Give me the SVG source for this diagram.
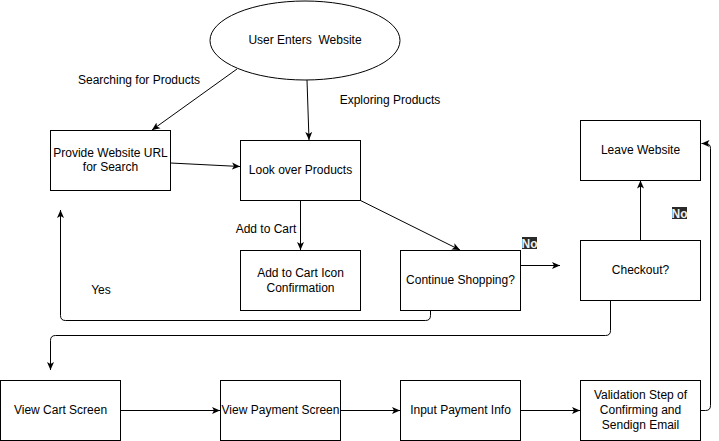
<svg xmlns="http://www.w3.org/2000/svg" width="719" height="441" viewBox="0 0 719 441">
<defs>
<style>
.box{fill:#fff;stroke:#000;stroke-width:1}
.t{font-family:"Liberation Sans",Arial,Helvetica,sans-serif;font-size:12px;fill:#000;text-anchor:middle}
.e{fill:none;stroke:#000;stroke-width:1}
.nobg{fill:#2a2a2a}
.no{font-family:"Liberation Sans",Arial,Helvetica,sans-serif;font-size:12px;font-weight:bold;fill:#f0f0f0;text-anchor:middle}
</style>
<marker id="arr" markerUnits="userSpaceOnUse" markerWidth="9" markerHeight="9" refX="8" refY="4" orient="auto" viewBox="0 0 9 8">
<path d="M0,0.5 L8,4 L0,7.5 L2,4 Z" fill="#000"/>
</marker>
</defs>
<rect width="719" height="441" fill="#fff"/>
<g id="connectors">
<path class="e" d="M237,69 L152,130" marker-end="url(#arr)"/>
<path class="e" d="M307,80 L309,140" marker-end="url(#arr)"/>
<path class="e" d="M170.5,163 L240,166.5" marker-end="url(#arr)"/>
<path class="e" d="M300.5,200.5 L300.5,250" marker-end="url(#arr)"/>
<path class="e" d="M360.5,200.5 L460,250" marker-end="url(#arr)"/>
<path class="e" d="M520.5,265.5 L560,265.5" marker-end="url(#arr)"/>
<path class="e" d="M640.5,240 L640.5,180.5" marker-end="url(#arr)"/>
<path class="e" d="M430.5,310.5 L430.5,315.5 Q430.5,320.5 425.5,320.5 L65.5,320.5 Q60.5,320.5 60.5,315.5 L60.5,210" marker-end="url(#arr)"/>
<path class="e" d="M610.5,300.5 L610.5,330.5 Q610.5,335.5 605.5,335.5 L55.5,335.5 Q50.5,335.5 50.5,340.5 L50.5,370" marker-end="url(#arr)"/>
<path class="e" d="M120.5,410.5 L220,410.5" marker-end="url(#arr)"/>
<path class="e" d="M340.5,410.5 L400,410.5" marker-end="url(#arr)"/>
<path class="e" d="M520.5,410.5 L580,410.5" marker-end="url(#arr)"/>
<path class="e" d="M700.5,410.5 L705.5,410.5 Q710.5,410.5 710.5,405.5 L710.5,148.5 Q710.5,143.5 705.5,143.5 L701.5,143.5" marker-end="url(#arr)"/>
</g>
<g id="labels">
<text class="t" x="139" y="84">Searching for Products</text>
<text class="t" x="390" y="104">Exploring Products</text>
<text class="t" x="266" y="233">Add to Cart</text>
<text class="t" x="101" y="294">Yes</text>
<rect class="nobg" x="522" y="237" width="15" height="12"/>
<text class="no" x="529.5" y="247.5">No</text>
<rect class="nobg" x="672" y="207" width="15" height="12"/>
<text class="no" x="679.5" y="217.5">No</text>
</g>
<g id="start">
<ellipse class="box" cx="305" cy="40.5" rx="95" ry="39.5"/>
<text class="t" x="305" y="44" xml:space="preserve">User Enters  Website</text>
</g>
<g id="provide-url">
<rect class="box" x="50.5" y="130.5" width="120" height="60"/>
<text class="t" x="110.5" y="157">Provide Website URL</text>
<text class="t" x="110.5" y="171">for Search</text>
</g>
<g id="look-over">
<rect class="box" x="240.5" y="140.5" width="120" height="60"/>
<text class="t" x="300.5" y="174">Look over Products</text>
</g>
<g id="add-cart-icon">
<rect class="box" x="240.5" y="250.5" width="120" height="60"/>
<text class="t" x="300.5" y="277">Add to Cart Icon</text>
<text class="t" x="300.5" y="292">Confirmation</text>
</g>
<g id="continue-shopping">
<rect class="box" x="400.5" y="250.5" width="120" height="60"/>
<text class="t" x="460.5" y="284">Continue Shopping?</text>
</g>
<g id="checkout">
<rect class="box" x="580.5" y="240.5" width="120" height="60"/>
<text class="t" x="640.5" y="274">Checkout?</text>
</g>
<g id="leave-website">
<rect class="box" x="580.5" y="120.5" width="120" height="60"/>
<text class="t" x="640.5" y="154">Leave Website</text>
</g>
<g id="view-cart">
<rect class="box" x="0.5" y="380.5" width="120" height="60"/>
<text class="t" x="60.5" y="414">View Cart Screen</text>
</g>
<g id="view-payment">
<rect class="box" x="220.5" y="380.5" width="120" height="60"/>
<text class="t" x="280.5" y="414">View Payment Screen</text>
</g>
<g id="input-payment">
<rect class="box" x="400.5" y="380.5" width="120" height="60"/>
<text class="t" x="460.5" y="414">Input Payment Info</text>
</g>
<g id="validation">
<rect class="box" x="580.5" y="380.5" width="120" height="60"/>
<text class="t" x="640.5" y="399">Validation Step of</text>
<text class="t" x="640.5" y="414">Confirming and</text>
<text class="t" x="640.5" y="429">Sendign Email</text>
</g>
</svg>
